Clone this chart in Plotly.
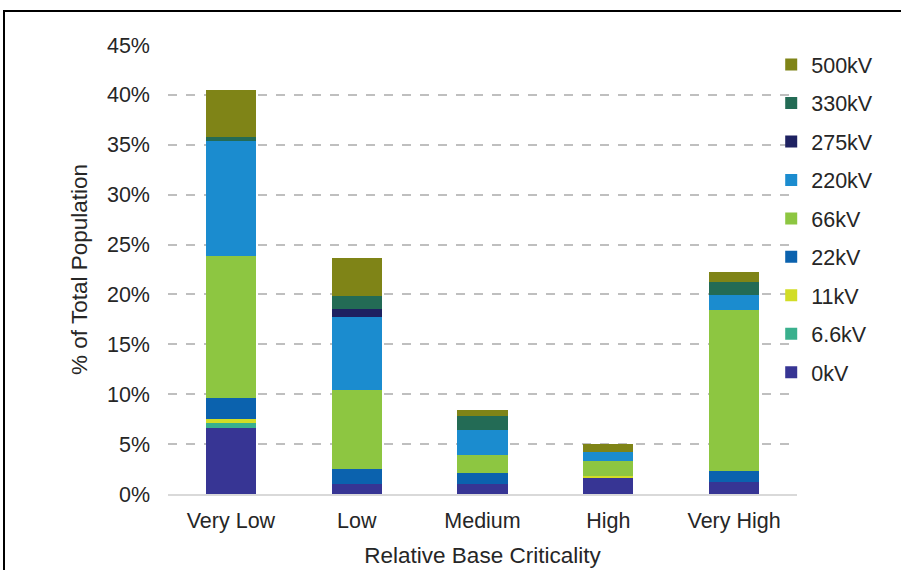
import plotly.graph_objects as go

categories = ["Very Low", "Low", "Medium", "High", "Very High"]

# Share of total population (%) by voltage level, stacked bottom to top
kv_0 = [6.6, 1.0, 1.0, 1.7, 1.2]
kv_6_6 = [0.5, 0.0, 0.0, 0.0, 0.0]
kv_11 = [0.42, 0.0, 0.0, 0.1, 0.0]
kv_22 = [2.15, 1.5, 1.1, 0.0, 1.07]
kv_66 = [14.2, 7.95, 1.85, 1.5, 16.2]
kv_220 = [11.55, 7.3, 2.45, 0.95, 1.5]
kv_275 = [0.0, 0.8, 0.0, 0.0, 0.0]
kv_330 = [0.4, 1.3, 1.4, 0.0, 1.28]
kv_500 = [4.7, 3.85, 0.65, 0.75, 0.95]

series = [
    ("0kV", kv_0, "#373594"),
    ("6.6kV", kv_6_6, "#3AB08D"),
    ("11kV", kv_11, "#D2DD26"),
    ("22kV", kv_22, "#0B62AE"),
    ("66kV", kv_66, "#8DC641"),
    ("220kV", kv_220, "#1B8CCF"),
    ("275kV", kv_275, "#1E2161"),
    ("330kV", kv_330, "#236B55"),
    ("500kV", kv_500, "#7F8417"),
]

fig = go.Figure()
for i, (name, vals, color) in enumerate(series):
    fig.add_trace(go.Bar(
        x=categories, y=vals, name=name, legendgroup=name,
        legendrank=100 - i,
        marker=dict(color=color, line=dict(width=0)),
    ))

font_family = "Liberation Sans, Arial, sans-serif"
text_color = "#262626"

fig.update_layout(
    width=901, height=570,
    barmode="stack", bargap=0.6,
    plot_bgcolor="white", paper_bgcolor="white",
    margin=dict(l=168, r=104, t=45, b=76, autoexpand=False),
    font=dict(family=font_family, size=21.5, color=text_color),
    xaxis=dict(
        showline=True, linecolor="#D9D9D9", linewidth=2, automargin=False,
        ticks="", tickfont=dict(size=21.5), ticklabelstandoff=6,
        title=dict(text="Relative Base Criticality", font=dict(size=22.5), standoff=15),
    ),
    yaxis=dict(
        range=[0, 45], dtick=5, ticksuffix="%", automargin=False,
        showgrid=True, gridcolor="#BFBFBF", gridwidth=1.5, griddash="dash",
        zeroline=False, ticks="", tickfont=dict(size=21.5), ticklabelstandoff=17,
        title=dict(text="% of Total Population", font=dict(size=22.5), standoff=13),
    ),
    legend=dict(
        x=0.959, xanchor="left", y=1.002, yanchor="top",
        traceorder="grouped", tracegroupgap=7.5,
        font=dict(size=21.5), itemwidth=30, maxheight=560,
        bgcolor="rgba(0,0,0,0)",
    ),
    shapes=[dict(
        type="rect", xref="paper", yref="paper",
        x0=(4 - 168) / 629, x1=(906 - 168) / 629,
        y0=(494 - 580) / 449, y1=(494 - 11) / 449,
        line=dict(color="black", width=2), fillcolor="rgba(0,0,0,0)",
        layer="above",
    )],
)

fig.write_html("out.html")
